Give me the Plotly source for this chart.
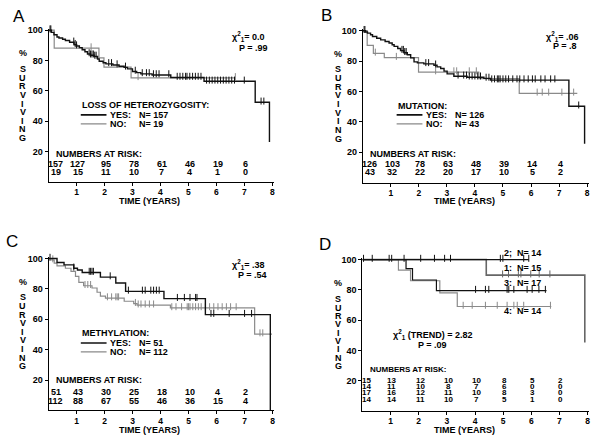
import plotly.graph_objects as go

W, H = 600, 438

# ---------------- data ----------------
risk_years = [0, 1, 2, 3, 4, 5, 6, 7]

# Panel A: loss of heterozygosity
A_yes_t = [0, 0.1, 0.19, 0.3, 0.37, 0.5, 0.6, 0.75, 0.91, 1.0, 1.1, 1.2, 1.3, 1.39, 1.5, 1.63, 1.75,
           1.81, 1.95, 2.05, 2.3, 2.52, 2.7, 2.82, 3.0, 3.15, 3.3, 3.7, 4.37, 5.56, 7.39, 7.9]
A_yes_s = [100, 98.5, 96.9, 95.5, 94.8, 94, 93.2, 92, 90.4, 89.5, 88.5, 87.1, 85.8, 84.3, 83.5, 82.7, 81,
           79.5, 78.5, 77.8, 77, 76.2, 75.5, 74.5, 72.8, 72, 71.2, 70.5, 68.8, 66.3, 52.5, 26.3]
A_yes_cens = [0.05, 0.08, 0.9, 0.95, 1.0, 1.45, 1.5, 1.55, 1.6, 1.65, 1.7, 2.15, 2.25, 2.45, 2.75, 3.1,
              3.35, 3.5, 3.6, 3.75, 3.85, 3.95, 4.3, 4.6, 4.7, 4.8, 4.9, 4.95, 5.05, 5.15, 5.25, 5.35,
              5.45, 5.65, 5.75, 5.85, 5.95, 6.05, 6.15, 6.25, 6.35, 6.45, 6.55, 6.65, 7.0, 7.6, 7.7]
A_no_t = [0, 0.2, 1.8, 1.98, 2.95, 6.68]
A_no_s = [100, 88.2, 81.7, 75.6, 68.6, 68.6]
A_no_cens = [1.52, 3.2, 6.68]
A_risk_yes = [157, 127, 95, 78, 61, 46, 19, 6]
A_risk_no = [19, 15, 11, 10, 7, 4, 1, 0]

# Panel B: mutation
B_yes_t = [0, 0.1, 0.17, 0.28, 0.35, 0.5, 0.64, 0.8, 0.94, 1.05, 1.12, 1.25, 1.35, 1.47, 1.59, 1.71,
           1.83, 1.95, 2.18, 2.54, 2.65, 2.78, 2.9, 3.01, 3.25, 3.72, 4.32, 4.56, 7.35, 7.91]
B_yes_s = [100, 99.2, 98.4, 97.3, 96.2, 95, 94, 92.9, 91.9, 90.8, 89.7, 88.3, 86.9, 85.5, 84.2, 82.1,
           79.5, 78.8, 78.2, 77.3, 76.2, 75.1, 73.4, 71.6, 70, 69.4, 68.6, 67.5, 50.3, 25.6]
B_yes_cens = [0.05, 0.08, 1.4, 1.45, 1.5, 1.55, 2.25, 2.35, 2.6, 3.4, 3.6, 3.7, 3.8, 3.9, 4.0, 4.1, 4.2,
              4.4, 4.5, 4.6, 4.7, 4.8, 4.85, 4.9, 5.0, 5.1, 5.2, 5.35, 5.5, 5.6, 5.75, 5.9, 6.05,
              6.15, 6.35, 6.5, 6.7, 6.85, 7.7]
B_no_t = [0, 0.16, 0.38, 0.77, 1.99, 4.14, 5.58, 7.65]
B_no_s = [100, 90.3, 85.1, 82.3, 72.8, 68.5, 58.8, 58.8]
B_no_cens = [0.45, 1.2, 2.6, 3.25, 3.35, 3.8, 4.05, 6.22, 6.4, 6.63, 7.1, 7.52]
B_risk_yes = [126, 103, 78, 63, 48, 39, 14, 4]
B_risk_no = [43, 32, 22, 20, 17, 10, 5, 2]

# Panel C: methylation
C_yes_t = [0, 0.3, 0.55, 0.9, 1.03, 1.2, 1.85, 2.4, 2.75, 4.12, 5.6, 7.92]
C_yes_s = [100, 97.4, 95.8, 93.6, 92.5, 90.8, 87.8, 83.9, 78.4, 73.6, 63.1, 0]
C_yes_cens = [0.05, 0.9, 1.45, 1.5, 1.55, 1.6, 2.2, 2.85, 3.35, 3.45, 3.65, 3.75, 3.85, 3.95, 4.6,
              4.85, 5.05, 5.25, 5.3, 5.8, 5.9, 6.45, 7.0, 7.25]
C_no_t = [0, 0.12, 0.2, 0.3, 0.6, 0.8, 0.96, 1.08, 1.25, 1.55, 1.73, 1.85, 2.03, 2.7, 3.04, 3.16,
          4.35, 7.36, 7.98]
C_no_s = [100, 99, 97, 95.2, 93.6, 91.5, 88.2, 84.3, 82.1, 80.6, 77.8, 75.2, 74, 71.9, 70.3, 69.3,
          67.5, 50.3, 50.3]
C_no_cens = [0.15, 1.3, 1.4, 1.5, 2.1, 2.25, 2.4, 2.45, 2.5, 3.1, 3.2, 3.3, 3.45, 3.6, 3.75, 4.4,
             4.55, 4.75, 4.95, 5.0, 5.05, 5.15, 5.25, 5.35, 5.45, 5.6, 5.75, 5.9, 6.05, 6.2, 6.35,
             6.5, 6.7, 7.55, 7.65]
C_risk_yes = [51, 43, 30, 25, 18, 10, 4, 2]
C_risk_no = [112, 88, 67, 55, 46, 36, 15, 4]

# Panel D: groups 1-4
D_g1_t = [0, 4.4, 7.9]
D_g1_s = [100, 89.7, 45.3]
D_g1_cens = [4.98, 5.19, 5.54, 5.63, 5.98, 6.28, 6.66]
D_g2_t = [0, 5.91]
D_g2_s = [100, 100]
D_g2_cens = [0.04, 0.35, 0.95, 1.04, 1.48, 2.07, 2.56, 2.92, 3.13, 4.9, 4.99, 5.73, 5.91]
D_g3_t = [0, 1.55, 1.78, 2.63, 6.54]
D_g3_s = [100, 94, 86.5, 79.5, 79.5]
D_g3_cens = [4.02, 4.37, 4.49, 5.14, 5.2, 5.38, 5.85, 6.03, 6.27, 6.5]
D_g4_t = [0, 1.28, 1.71, 2.75, 3.37, 6.71]
D_g4_s = [100, 93, 86, 78, 69, 69]
D_g4_cens = [3.58, 3.9, 4.37, 4.79, 5.14, 5.38, 5.5, 5.73, 6.68]
D_risk = [
    [15, 13, 12, 10, 10, 8, 5, 2],
    [14, 11, 10, 8, 7, 6, 0, 0],
    [17, 16, 12, 11, 10, 8, 3, 0],
    [14, 14, 11, 10, 7, 5, 1, 0],
]
D_group_labels = ["2;  N= 14", "1:  N= 15", "3:  N= 17", "4:  N= 14"]

# ---------------- styling / layout ----------------
FONT = "Liberation Sans"
BLACK = "#111111"
GRAY = "#8a8a8a"
DGRAY = "#666666"

# panel geometry in pixels: left x of axis, px per year, bottom y, px per % unit
geom = {
    "A": (48.7, 28.0, 180.3, 1.53),
    "B": (363.3, 28.1, 180.9, 1.53),
    "C": (48.7, 28.04, 410.3, 1.53),
    "D": (363.0, 28.2, 410.8, 1.525),
}
XR = [0, 8.05]
YR = [0, 101]
axis_ids = {"A": "", "B": "2", "C": "3", "D": "4"}

fig = go.Figure()
layout = dict(width=W, height=H, margin=dict(l=0, r=0, t=0, b=0),
              paper_bgcolor="white", plot_bgcolor="white", showlegend=False,
              font=dict(family=FONT, color="black"))

for p, (x0, ppy, yb, ppu) in geom.items():
    i = axis_ids[p]
    xd = [x0 / W, (x0 + XR[1] * ppy) / W]
    yd = [1 - yb / H, 1 - (yb - YR[1] * ppu) / H]
    layout["xaxis" + i] = dict(domain=xd, range=XR, anchor="y" + i, showgrid=False, zeroline=False,
                               showline=True, linecolor="black", linewidth=1, ticks="outside",
                               ticklen=3, tickcolor="black", tickvals=[1, 2, 3, 4, 5, 6, 7, 8],
                               ticklabelstandoff=-1,
                               tickfont=dict(family=FONT, size=8.5, weight="bold"), fixedrange=True)
    layout["yaxis" + i] = dict(domain=yd, range=YR, anchor="x" + i, showgrid=False, zeroline=False,
                               showline=True, linecolor="black", linewidth=1, ticks="outside",
                               ticklen=3, tickcolor="black", tickvals=[20, 40, 60, 80, 100],
                               tickfont=dict(family=FONT, size=9, weight="bold"), fixedrange=True)


def surv_at(t, ts, ss):
    v = ss[0]
    for tt, s in zip(ts, ss):
        if tt <= t:
            v = s
    return v


def add_curve(p, ts, ss, cens, color, width):
    i = axis_ids[p]
    fig.add_trace(go.Scatter(x=ts, y=ss, mode="lines", line=dict(color=color, width=width, shape="hv"),
                             xaxis="x" + i, yaxis="y" + i, hoverinfo="skip", cliponaxis=False))
    fig.add_trace(go.Scatter(x=cens, y=[surv_at(c, ts, ss) + 0.8 for c in cens], mode="markers",
                             marker=dict(symbol="line-ns-open", size=5, color=color,
                                         line=dict(color=color, width=1)),
                             xaxis="x" + i, yaxis="y" + i, hoverinfo="skip", cliponaxis=False))


add_curve("A", A_no_t, A_no_s, A_no_cens, GRAY, 1.2)
add_curve("A", A_yes_t, A_yes_s, A_yes_cens, BLACK, 1.4)
add_curve("B", B_no_t, B_no_s, B_no_cens, GRAY, 1.2)
add_curve("B", B_yes_t, B_yes_s, B_yes_cens, BLACK, 1.4)
add_curve("C", C_no_t, C_no_s, C_no_cens, GRAY, 1.2)
add_curve("C", C_yes_t, C_yes_s, C_yes_cens, BLACK, 1.4)
add_curve("D", D_g1_t, D_g1_s, D_g1_cens, DGRAY, 1.6)
add_curve("D", D_g4_t, D_g4_s, D_g4_cens, GRAY, 1.2)
add_curve("D", D_g3_t, D_g3_s, D_g3_cens, BLACK, 1.2)
add_curve("D", D_g2_t, D_g2_s, D_g2_cens, BLACK, 1.2)

annotations = []
shapes = []


def ann(text, x, y, p=None, xanchor="left", size=9, bold=True, yanchor="middle", yshift=0):
    if p is None:
        xref, yref = "paper", "paper"
        x, y = x / W, 1 - y / H
    else:
        xref, yref = "x" + axis_ids[p], "y" + axis_ids[p]
    annotations.append(dict(text=text, x=x, y=y, xref=xref, yref=yref, xanchor=xanchor,
                            yanchor=yanchor, showarrow=False, yshift=yshift, borderpad=0,
                            font=dict(family=FONT, size=size, color="black",
                                      weight="bold" if bold else "normal")))


# panel letters
for letter, (lx, ly) in {"A": (19, 14), "B": (327, 13), "C": (12.5, 240), "D": (326, 243)}.items():
    ann(letter, lx, ly, xanchor="center", size=17, bold=False)

# y labels and x titles
ylab_pos = {"A": (23, 50.7, 66.7, 136), "B": (339, 51.7, 66.7, 136.7),
            "C": (23, 280.7, 296.3, 365.7), "D": (339, 281.7, 298.3, 365.7)}
word = "SURVIVING"
for p, (lx, pcy, y0, y1) in ylab_pos.items():
    ann("%", lx, pcy, xanchor="center", size=9)
    for k, ch in enumerate(word):
        ann(ch, lx, y0 + k * (y1 - y0) / (len(word) - 1), xanchor="center", size=9)
for p, (tx, ty) in {"A": (150, 199.5), "B": (465, 199.5), "C": (150, 429.5), "D": (465, 430)}.items():
    ann("TIME (YEARS)", tx, ty, xanchor="center", size=9)

CHI = "χ<sup>2</sup><sub>1</sub>"
# statistics
ann(CHI + "= 0.0", 7.79, 95.6, "A", xanchor="right")
ann("P = .99", 7.88, 88.4, "A", xanchor="right")
ann(CHI + "= .06", 7.75, 96.5, "B", xanchor="right")
ann("P = .8", 7.69, 89.9, "B", xanchor="right")
ann(CHI + "= .38", 7.75, 96.1, "C", xanchor="right")
ann("P = .54", 7.83, 89.1, "C", xanchor="right")
ann(CHI + " (TREND) = 2.82", 2.52, 50.4, "D", xanchor="center")
ann("P = .09", 2.49, 43.8, "D", xanchor="center")

# legends
legends = {
    "A": ("LOSS OF HETEROZYGOSITY:", "N= 157", "N= 19", 1.15, 50.7, 44.2, 38.3),
    "B": ("MUTATION:", "N= 126", "N= 43", 1.21, 50.3, 44.6, 38.7),
    "C": ("METHYLATION:", "N= 51", "N= 112", 1.15, 51.0, 44.4, 38.6),
}
for p, (title, nyes, nno, lx, ty, yy, yn) in legends.items():
    i = axis_ids[p]
    ann(title, lx, ty, p)
    for yv, col, wd, lab, nlab in [(yy, BLACK, 1.6, "YES:", nyes), (yn, GRAY, 1.2, "NO:", nno)]:
        shapes.append(dict(type="line", xref="x" + i, yref="y" + i, x0=lx, x1=lx + 0.92, y0=yv, y1=yv,
                           line=dict(color=col, width=wd)))
        ann(lab, lx + 1.01, yv, p)
        ann(nlab, lx + 2.05, yv, p)

# numbers at risk (A-C)
risk_tables = {"A": (A_risk_yes, A_risk_no, 18.7, 12.2, 6.7),
               "B": (B_risk_yes, B_risk_no, 19.1, 12.5, 6.7),
               "C": (C_risk_yes, C_risk_no, 19.8, 12.4, 6.3)}
for p, (ry, rn, yt, y1, y2) in risk_tables.items():
    ann("NUMBERS AT RISK:", 0.22, yt, p)
    for k, yr in enumerate(risk_years):
        xx = 0.25 if yr == 0 else yr + 0.05
        ann(str(ry[k]), xx, y1, p, xanchor="center")
        ann(str(rn[k]), xx, y2, p, xanchor="center")

# numbers at risk D
ann("NUMBERS AT RISK:", 0.22, 27.4, "D", size=8)
for r, yv in zip(D_risk, [20.2, 16.1, 11.9, 7.7]):
    for k, yr in enumerate(risk_years):
        xx = 0.15 if yr == 0 else yr + 0.05
        ann(str(r[k]), xx, yv, "D", xanchor="center", size=8)

# group labels D (first one sits above the 100% line, placed with a pixel shift)
for lab, yv, ys in zip(D_group_labels, [100, 94.5, 84.7, 66.1], [7, 0, 0, 0]):
    ann(lab, 5.0, yv, "D", yshift=ys)

layout["annotations"] = annotations
layout["shapes"] = shapes
fig.update_layout(**layout)
fig.write_html("out.html", config={"displayModeBar": False},
               post_script="document.body.style.margin='0';")
